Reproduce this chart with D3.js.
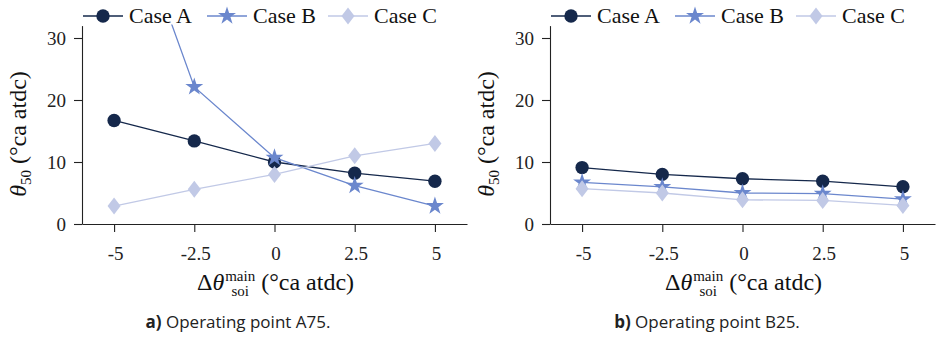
<!DOCTYPE html>
<html><head><meta charset="utf-8">
<script src="https://cdn.jsdelivr.net/npm/d3@7"></script>
<style>html,body{margin:0;padding:0;background:#fff;} svg{display:block;}</style>
</head><body>
<svg id="chart" width="936" height="339"></svg>
<script>
// ---- data ----
const xValues = [-5, -2.5, 0, 2.5, 5];
const xTickLabels = ["-5", "-2.5", "0", "2.5", "5"];
const yTickValues = [0, 10, 20, 30];
const seriesNames = ["Case A", "Case B", "Case C"];
const caseA_A75 = [16.7, 13.4, 10.0, 8.2, 6.9];
const caseB_A75 = [58, 22.1, 10.7, 6.2, 2.9];
const caseC_A75 = [2.9, 5.6, 8.0, 11.0, 13.0];
const caseA_B25 = [9.1, 8.0, 7.3, 6.9, 6.0];
const caseB_B25 = [6.7, 6.0, 5.0, 4.9, 4.0];
const caseC_B25 = [5.7, 5.0, 3.9, 3.8, 3.0];
const captionTags = ["a)", "b)"];
const captionTexts = [" Operating point A75.", " Operating point B25."];

// ---- style ----
const colors = ["#15284b", "#6b87cd", "#c1c9e6"];
const serif = "'Liberation Serif', serif";
const svg = d3.select("#chart");

const diamond = { draw(ctx, size) { const w = Math.sqrt(size) * 0.5, h = w * 1.3; ctx.moveTo(0, -h); ctx.lineTo(w, 0); ctx.lineTo(0, h); ctx.lineTo(-w, 0); ctx.closePath(); } };
const symbols = [d3.symbol().type(d3.symbolCircle).size(140), d3.symbol().type(d3.symbolStar).size(100), d3.symbol().type(diamond).size(170)];

const panels = [
  { left: 82, right: 467, series: [caseA_A75, caseB_A75, caseC_A75], capX: 238 },
  { left: 550, right: 935, series: [caseA_B25, caseB_B25, caseC_B25], capX: 707 }
];
const plotTop = 25.6, plotBottom = 224;

panels.forEach((p, pi) => {
  const x = d3.scaleLinear().domain([-6, 6]).range([p.left, p.right]);
  const y = d3.scaleLinear().domain([0, 32]).range([plotBottom, plotTop]);
  const g = svg.append("g");
  const clipId = "clip" + pi;
  svg.append("clipPath").attr("id", clipId).append("rect")
    .attr("x", p.left - 20).attr("y", plotTop - 1).attr("width", p.right - p.left + 40).attr("height", 300);

  // axes
  const ax = g.append("g").attr("transform", `translate(0,${plotBottom})`)
    .call(d3.axisBottom(x).tickValues(xValues).tickFormat((d, i) => xTickLabels[i]).tickSize(8).tickSizeOuter(0));
  const ay = g.append("g").attr("transform", `translate(${p.left},0)`)
    .call(d3.axisLeft(y).tickValues(yTickValues).tickSize(8).tickSizeOuter(0));
  [ax, ay].forEach(a => {
    a.attr("font-family", serif);
    a.select(".domain").attr("stroke", "#222").attr("stroke-width", 1.1);
    a.selectAll(".tick line").attr("stroke", "#222").attr("stroke-width", 1.1);
    a.selectAll("text").attr("font-family", serif).attr("font-size", 19).attr("fill", "#222");
  });
  ax.selectAll("text").attr("y", 36).attr("dy", 0).attr("x", 1);
  ay.selectAll("text").attr("x", -16);

  // lines & markers
  const plot = g.append("g").attr("clip-path", `url(#${clipId})`);
  p.series.forEach((vals, si) => {
    const pts = vals.map((v, i) => [x(xValues[i]), y(v)]);
    plot.append("path").attr("d", d3.line()(pts)).attr("fill", "none")
      .attr("stroke", colors[si]).attr("stroke-width", 1.3);
    plot.selectAll(null).data(pts).enter().append("path")
      .attr("d", symbols[si]()).attr("transform", d => `translate(${d[0]},${d[1]})`)
      .attr("fill", colors[si]);
  });

  // legend
  const lx = p.left + 1, ly = 16, offs = [0, 124, 245];
  seriesNames.forEach((n, si) => {
    const lg = g.append("g").attr("transform", `translate(${lx + offs[si]},${ly})`);
    lg.append("line").attr("x1", 0).attr("x2", 40).attr("stroke", colors[si]).attr("stroke-width", 1.3);
    lg.append("path").attr("d", symbols[si]()).attr("transform", "translate(20,0)").attr("fill", colors[si]);
    lg.append("text").attr("x", 46).attr("y", 7).attr("font-family", serif).attr("font-size", 22)
      .attr("fill", "#111").text(n);
  });

  // x label
  const xl = g.append("g");
  const t1 = xl.append("text").attr("font-family", serif).attr("font-size", 24).attr("fill", "#111");
  t1.append("tspan").text("Δ");
  t1.append("tspan").attr("font-style", "italic").text("θ");
  const w1 = t1.node().getComputedTextLength();
  const tm = xl.append("text").attr("x", w1 + 1).attr("y", -9).attr("font-family", serif).attr("font-size", 15).attr("fill", "#111").text("main");
  const wm = tm.node().getComputedTextLength();
  const ts = xl.append("text").attr("font-family", serif).attr("font-size", 15).attr("fill", "#111").text("soi");
  const wsi = ts.node().getComputedTextLength();
  ts.attr("x", w1 + 1 + (wm - wsi) / 2).attr("y", 6);
  xl.append("text").attr("x", w1 + wm + 7).attr("font-family", serif).attr("font-size", 24).attr("fill", "#111")
    .text("(°ca atdc)");
  const bb = xl.node().getBBox();
  xl.attr("transform", `translate(${(p.left + p.right) / 2 + 1 - bb.width / 2 - bb.x},290)`);

  // y label
  const yl = g.append("g");
  const yt = yl.append("text").attr("font-family", serif).attr("font-size", 24).attr("fill", "#111");
  yt.append("tspan").attr("font-style", "italic").text("θ");
  yt.append("tspan").attr("font-size", 15).attr("dy", 5).text("50");
  yt.append("tspan").attr("dy", -5).text(" (°ca atdc)");
  const yb = yt.node().getBBox();
  yl.attr("transform", `translate(${p.left - 56},134) rotate(-90) translate(${-yb.x - yb.width / 2},0)`);

  // caption
  const cap = g.append("text").attr("x", p.capX).attr("y", 328).attr("text-anchor", "middle")
    .attr("font-family", "'Open Sans', 'Noto Sans', sans-serif").attr("font-size", 17).attr("fill", "#222");
  cap.append("tspan").attr("font-weight", "bold").text(captionTags[pi]);
  cap.append("tspan").text(captionTexts[pi]);
});
</script>
</body></html>
